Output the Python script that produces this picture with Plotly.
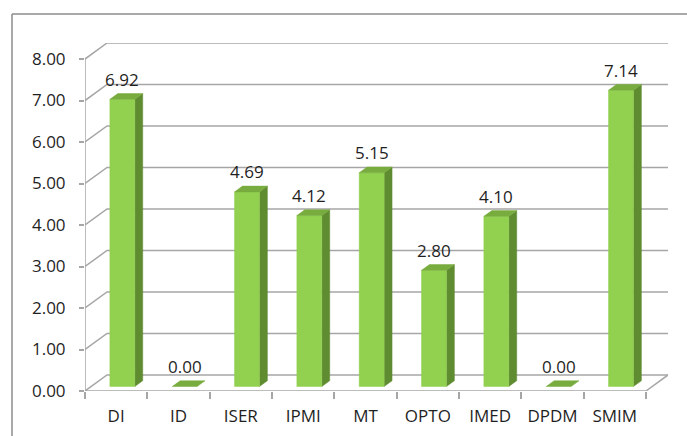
import plotly.graph_objects as go

# ---- data ----
categories = ["DI", "ID", "ISER", "IPMI", "MT", "OPTO", "IMED", "DPDM", "SMIM"]
values = [6.92, 0.00, 4.69, 4.12, 5.15, 2.80, 4.10, 0.00, 7.14]
y_ticks = [0, 1, 2, 3, 4, 5, 6, 7, 8]

# ---- style / geometry ----
W, H = 687, 436
ML, MR, MT, MB = 85, 19, 43, 45
N = len(categories)
DX, DY = 0.353, 0.386          # depth of the 3D walls in axis units
F0, F1 = 0.28, 0.64            # bar depth span (fraction of wall depth)
BW = 0.40                      # bar front width (category units)
FRONT = "#92D050"
SIDE = "#5F8C30"
TOP = "#78AC3E"
GRID = "#A6A6A6"
FRAME = "#8C8C8C"
FONT = dict(family="Open Sans", size=17, color="#1F1F1F")

fig = go.Figure()

# back-wall gridlines with their diagonals, floor outline
gx, gy = [], []
for v in y_ticks:
    gx += [0, DX, N + DX, None]
    gy += [v, v + DY, v + DY, None]
gx += [N, N + DX, None, 0, 0]
gy += [0, DY, None, 0, y_ticks[-1]]
fig.add_trace(go.Scatter(x=gx, y=gy, mode="lines", line=dict(color=GRID, width=1.5),
                         hoverinfo="skip", showlegend=False))
# front floor edge (on the tick axis)
fig.add_trace(go.Scatter(x=[0, N], y=[0, 0], mode="lines", xaxis="x2",
                         line=dict(color=GRID, width=1.5), hoverinfo="skip", showlegend=False))

# bars
b = F0 * DY
ddx = (F1 - F0) * DX
ddy = (F1 - F0) * DY
fx, fy, sx, sy, tx, ty = [], [], [], [], [], []
for i, v in enumerate(values):
    c = i + 0.5
    x0 = c - BW / 2 + F0 * DX
    x1 = x0 + BW
    top = b + v
    if v > 0:
        fx += [x0, x1, x1, x0, x0, None]
        fy += [b, b, top, top, b, None]
        sx += [x1, x1 + ddx, x1 + ddx, x1, x1, None]
        sy += [b, b + ddy, top + ddy, top, b, None]
    tx += [x0, x1, x1 + ddx, x0 + ddx, x0, None]
    ty += [top, top, top + ddy, top + ddy, top, None]

for xs, ys, col in [(sx, sy, SIDE), (fx, fy, FRONT), (tx, ty, TOP)]:
    fig.add_trace(go.Scatter(x=xs, y=ys, mode="lines", fill="toself", fillcolor=col,
                             line=dict(color=col, width=0.5), hoverinfo="skip",
                             showlegend=False))

# value labels
for i, v in enumerate(values):
    fig.add_annotation(x=i + 0.5 + F0 * DX, y=v + b, xref="x", yref="y",
                       text=f"{v:.2f}", showarrow=False, yanchor="middle",
                       yshift=20, font=FONT)

# chart frame (partially cropped)
pw = W - ML - MR
ph = H - MT - MB
fx0 = (12 - ML) / pw
fy0 = 1 + (MT - 14) / ph
fig.add_shape(type="line", xref="paper", yref="paper", x0=fx0, x1=fx0, y0=fy0, y1=-MB / ph - 0.1,
              line=dict(color=FRAME, width=1.5))
fig.add_shape(type="line", xref="paper", yref="paper", x0=fx0, x1=1 + (MR + 5) / pw, y0=fy0, y1=fy0,
              line=dict(color=FRAME, width=1.5))

fig.update_layout(
    width=W, height=H,
    margin=dict(l=ML, r=MR, t=MT, b=MB, autoexpand=False),
    paper_bgcolor="white", plot_bgcolor="white",
    font=FONT,
    xaxis=dict(range=[0, N + DX], tickvals=[i + 0.5 for i in range(N)], ticktext=categories,
               ticks="", showgrid=False, zeroline=False, showline=False, automargin=False,
               ticklabelstandoff=13, fixedrange=True),
    xaxis2=dict(range=[0, N + DX], overlaying="x", anchor="y", side="bottom",
                tickvals=list(range(N + 1)), showticklabels=False, ticks="outside",
                ticklen=7, tickwidth=1.5, tickcolor=GRID, showgrid=False, zeroline=False,
                showline=False, automargin=False, fixedrange=True),
    yaxis=dict(range=[0, y_ticks[-1] + DY], tickvals=y_ticks, tickformat=".2f",
               ticks="outside", ticklen=5, tickwidth=1.5, tickcolor=GRID,
               showgrid=False, zeroline=False, showline=False, automargin=False,
               ticklabelstandoff=10, fixedrange=True),
)

fig.write_html("out.html", config={"displayModeBar": False},
               post_script="document.body.style.margin='0';document.body.style.overflow='hidden';")
